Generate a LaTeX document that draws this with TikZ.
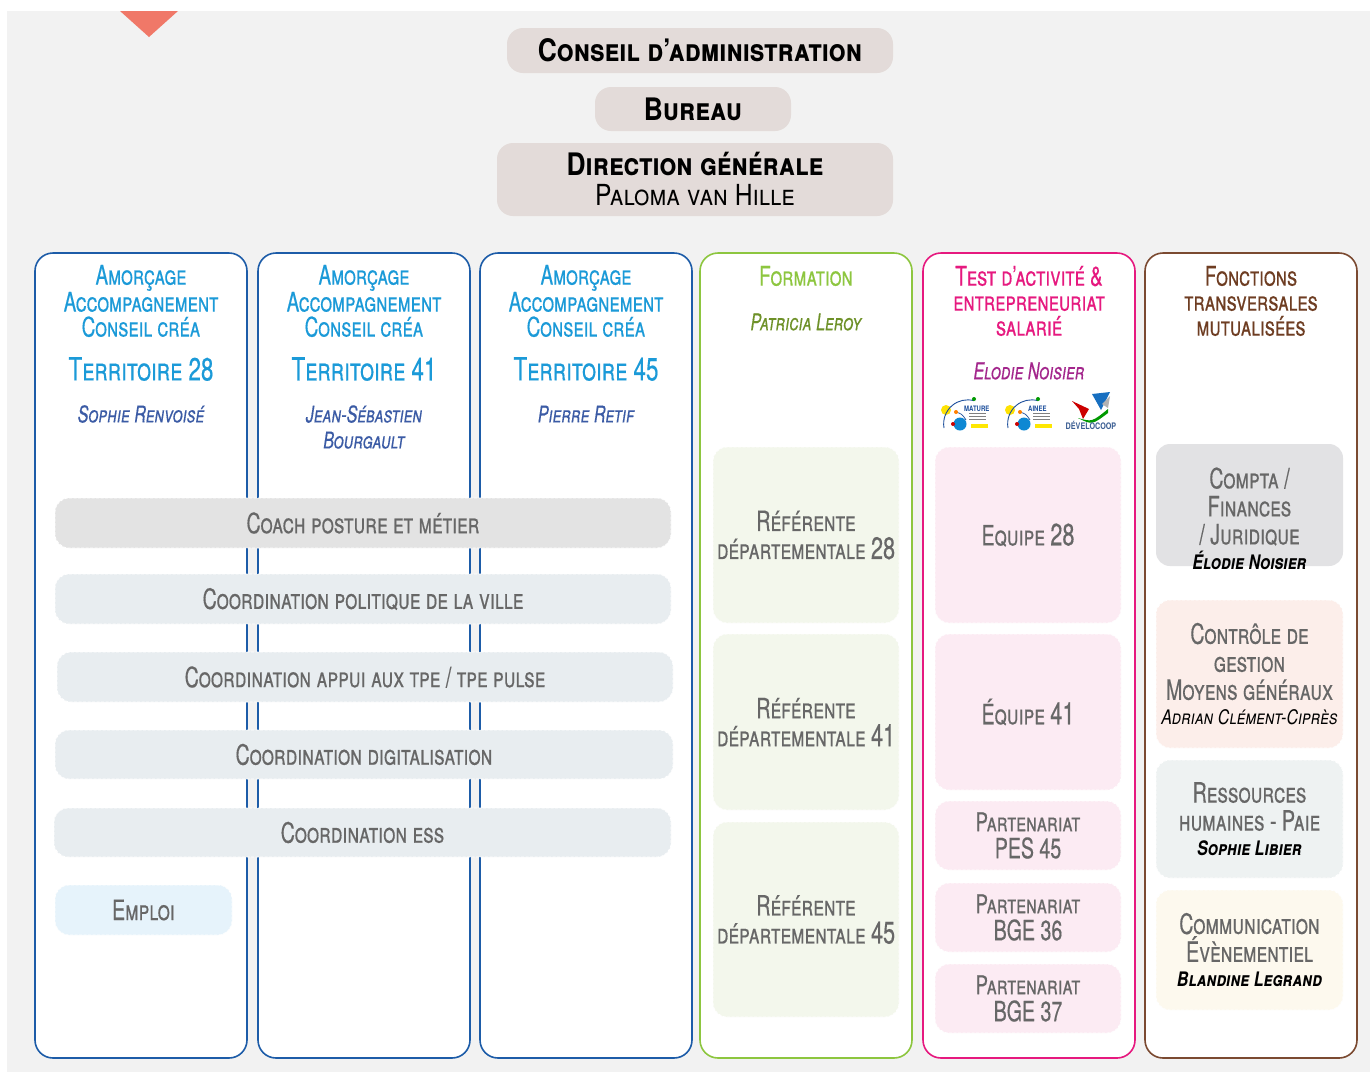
\documentclass[tikz,border=0pt]{standalone}
\usepackage{fontspec}
\setmainfont{TeX Gyre Heros}[FakeStretch=0.7, UprightFeatures={FakeBold=0.4}, ItalicFeatures={FakeBold=0.4}]
\newfontfamily\govfont{TeX Gyre Heros}[FakeStretch=0.85]
\newfontfamily\widefont{TeX Gyre Heros}[FakeStretch=0.8]
\usetikzlibrary{positioning}

\definecolor{bgGray}{HTML}{F2F2F2}
\definecolor{salmon}{HTML}{F07868}
\definecolor{topFill}{HTML}{E3DBD9}
\definecolor{amBlue}{HTML}{1D5CA8}
\definecolor{amText}{HTML}{1B9AD8}
\definecolor{amName}{HTML}{3B5BA5}
\definecolor{frGreen}{HTML}{8DC63F}
\definecolor{frName}{HTML}{6E9128}
\definecolor{taPink}{HTML}{E6197F}
\definecolor{taName}{HTML}{A3268C}
\definecolor{ftBrown}{HTML}{7B4A31}
\definecolor{ftText}{HTML}{6E3D22}
\definecolor{boxText}{HTML}{676767}
\definecolor{coachFill}{HTML}{E3E3E3}
\definecolor{coordFill}{HTML}{E8EDF0}
\definecolor{emploiFill}{HTML}{E6F3FB}
\definecolor{refFill}{HTML}{F3F7EC}
\definecolor{eqFill}{HTML}{FCEBF3}
\definecolor{comptaFill}{HTML}{E2E2E4}
\definecolor{ctrlFill}{HTML}{FCEEEA}
\definecolor{rhFill}{HTML}{EEF2F2}
\definecolor{comFill}{HTML}{FDF9EE}
\definecolor{logoBlue}{HTML}{1D4F9C}

\newcommand\whofont{\widefont\fontsize{20}{24}\selectfont\itshape\bfseries\color{black}}

\tikzset{
  topbox/.style={rounded corners=16pt, fill=topFill, inner sep=0pt, align=center, text=black},
  column/.style={rounded corners=18pt, draw=#1, line width=1.6pt, fill=white,
    minimum width=212pt, minimum height=805pt, inner sep=0pt},
  rolebox/.style={rounded corners=14pt, fill=#1, draw=white, line width=0.8pt,
    dash pattern=on 3pt off 1.5pt, inner sep=0pt, align=center, text=boxText,
    font=\fontsize{28}{28}\selectfont\scshape},
  boxtxt/.style={inner sep=0pt, align=center, text=boxText,
    font=\fontsize{28}{28}\selectfont\scshape},
  headtxt/.style={align=center, text=#1, inner sep=0pt,
    font=\fontsize{27}{25}\selectfont\scshape},
  nametxt/.style={align=center, text=#1, inner sep=0pt,
    font=\fontsize{23}{26}\selectfont\itshape\scshape},
  logotxt/.style={inner sep=0pt, text=logoBlue, font=\widefont\fontsize{7.5}{7.5}\selectfont\bfseries}
}

\begin{document}
\begin{tikzpicture}[x=1pt,y=-1pt]
\fill[white] (0,0) rectangle (1370,1072);
\fill[bgGray] (7,11) rectangle (1370,1072);
\useasboundingbox (0,0) rectangle (1370,1072);
\fill[salmon] (120,11) -- (178,11) -- (149,37) -- cycle;

% gouvernance
\node[topbox, minimum width=386pt, minimum height=45pt, font=\govfont\fontsize{31}{30}\selectfont\bfseries\scshape] (conseil) at (700,50.5) {Conseil d’administration};
\node[topbox, minimum width=196pt, minimum height=44pt, font=\govfont\fontsize{31}{30}\selectfont\bfseries\scshape] (bureau) at (693,109) {Bureau};
\node[topbox, minimum width=396pt, minimum height=73pt, font=\govfont\fontsize{29}{30}\selectfont\scshape] (direction) at (695,179.5) {{\fontsize{31}{30}\selectfont\bfseries Direction générale}\\Paloma van Hille};

% colonnes
\foreach \cx/\cc/\nm in {141/amBlue/col28, 364/amBlue/col41, 586/amBlue/col45, 806/frGreen/form, 1029/taPink/test, 1251/ftBrown/fonc}
  \node[column=\cc] (\nm) at (\cx,655.5) {};

% amorcage par territoire
\foreach \cx/\terr/\who/\wy in {141/28/{Sophie Renvoisé}/414, 364/41/{Jean-Sébastien\\Bourgault}/427, 586/45/{Pierre Retif}/414} {
  \node[headtxt=amText] (amorc\terr) at (\cx,301) {Amorçage\\Accompagnement\\Conseil créa};
  \node[headtxt=amText, font=\fontsize{32}{30}\selectfont\scshape] (terr\terr) at (\cx,369) {Territoire \terr};
  \node[nametxt=amName] (resp\terr) at (\cx,\wy) {\who};
}

% formation
\node[headtxt=frGreen] (formhead) at (806,276) {Formation};
\node[nametxt=frName] (formresp) at (806,322) {Patricia Leroy};
\foreach \dep/\cy/\h in {28/535/176, 41/722/176, 45/919.5/195}
  \node[rolebox=refFill, minimum width=186pt, minimum height=\h pt] (ref\dep) at (806,\cy) {Référente\\départementale {\fontsize{31}{28}\selectfont\dep}};

% test d'activite
\node[headtxt=taPink] (testhead) at (1029,301) {Test d’activité \&\\entrepreneuriat\\salarié};
\node[nametxt=taName] (testresp) at (1029,371) {Elodie Noisier};
\node[rolebox=eqFill, minimum width=186pt, minimum height=176pt] (eq28) at (1028,535) {Equipe {\fontsize{31}{28}\selectfont 28}};
\node[rolebox=eqFill, minimum width=186pt, minimum height=156pt] (eq41) at (1028,712) {Équipe {\fontsize{31}{28}\selectfont 41}};
\foreach \pid/\ptxt/\cy in {pes45/PES 45/835.5, bge36/BGE 36/917.5, bge37/BGE 37/998.5}
  \node[rolebox=eqFill, minimum width=186pt, minimum height=69pt, font=\fontsize{26}{27}\selectfont\scshape] (\pid) at (1028,\cy) {Partenariat\\{\fontsize{28}{27}\selectfont\ptxt}};

% logos
\foreach \lx/\lname in {0/MATURE, 64/AINEE} {
  \fill[yellow!85!orange] (946+\lx,410) circle (5);
  \draw[logoBlue, line width=0.9pt] (944+\lx,428) arc (170:285:24);
  \draw[logoBlue, line width=0.7pt] (956+\lx,412) .. controls (962+\lx,414) .. (966+\lx,420);
  \fill[cyan!70!blue] (960+\lx,424) circle (6.5);
  \fill[orange] (956+\lx,412) circle (2);
  \fill[green!60!black] (974+\lx,399) circle (2);
  \fill[red!80!black] (953+\lx,424) circle (2);
  \node[logotxt, anchor=west] (logo\lname) at (964+\lx,409) {\lname};
  \foreach \ly in {413.5,416.5,419.5}
    \draw[gray, line width=0.6pt] (969+\lx,\ly) -- (986+\lx,\ly);
  \fill[yellow!90!orange] (971+\lx,424) rectangle (988+\lx,428);
}
\fill[red!80!black] (1072,401) -- (1089,409) -- (1083,419) -- (1079,409) -- cycle;
\fill[cyan!50!blue] (1092,394) -- (1110,392) -- (1101,410) -- cycle;
\fill[gray!60] (1102,404) -- (1110,396) -- (1108,408) -- cycle;
\fill[green!60!black] (1078,418) .. controls (1092,422) .. (1108,409) -- (1108,413) .. controls (1092,425) .. (1078,418);
\node[logotxt, text=logoBlue!70!gray, font=\widefont\fontsize{9}{9}\selectfont\bfseries] (logoDev) at (1091,425.5) {DÉVELOCOOP};

% fonctions transversales
\node[headtxt=ftText] (fonchead) at (1251,301) {Fonctions\\transversales\\mutualisées};
\node[rolebox=comptaFill, draw=none, minimum width=187pt, minimum height=122pt] (compta) at (1249.5,505) {};
\node[boxtxt] (comptatxt) at (1249.5,518.5) {Compta /\\Finances\\/ Juridique\\[-3pt]{\whofont Élodie Noisier}};
\node[rolebox=ctrlFill, minimum width=187pt, minimum height=148pt] (controle) at (1249.5,674) {Contrôle de\\gestion\\Moyens généraux\\[-3pt]{\whofont\mdseries Adrian Clément-Ciprès}};
\node[rolebox=rhFill, minimum width=187pt, minimum height=118pt] (rh) at (1249.5,819) {Ressources\\humaines - Paie\\[-3pt]{\whofont Sophie Libier}};
\node[rolebox=comFill, minimum width=187pt, minimum height=120pt] (com) at (1249.5,950) {Communication\\Évènementiel\\[-3pt]{\whofont Blandine Legrand}};

% missions transverses aux territoires
\node[rolebox=coachFill, minimum width=616pt, minimum height=50pt] (coach) at (363,523) {Coach posture et métier};
\node[rolebox=coordFill, minimum width=616pt, minimum height=50pt] (politique) at (363,599) {Coordination politique de la ville};
\node[rolebox=coordFill, minimum width=616pt, minimum height=50pt] (tpe) at (365,677) {Coordination appui aux tpe / tpe pulse};
\node[rolebox=coordFill, minimum width=618pt, minimum height=49pt] (digital) at (364,754.5) {Coordination digitalisation};
\node[rolebox=coordFill, minimum width=617pt, minimum height=49pt] (ess) at (362.5,832.5) {Coordination ess};
\node[rolebox=emploiFill, minimum width=177pt, minimum height=50pt] (emploi) at (143.5,910) {Emploi};
\end{tikzpicture}
\end{document}
